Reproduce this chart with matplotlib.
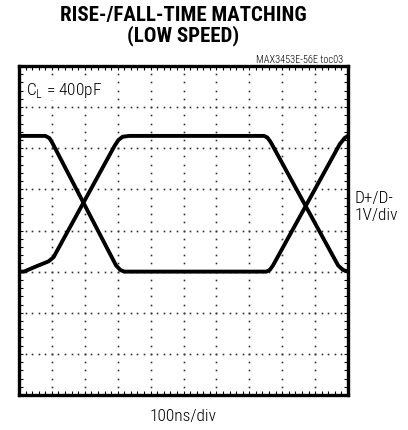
import matplotlib
matplotlib.use("Agg")
import matplotlib.pyplot as plt
import numpy as np

# Data section (scope divisions: x 0..10, y 0..8)
# trace that starts high, falls, then rises again near the right edge
t_a = [0.0, 0.80, 0.92, 1.00, 2.95, 3.08, 3.20, 3.40, 7.52, 7.62, 7.72, 9.75, 9.90, 10.0]
v_a = [6.30, 6.30, 6.25, 6.15, 3.15, 3.04, 3.00, 3.00, 3.00, 3.04, 3.15, 6.10, 6.25, 6.30]

# trace that starts low, rises, then falls near the right edge
t_b = [0.0, 0.15, 0.50, 0.90, 1.05, 2.90, 3.02, 3.15, 3.35, 7.45, 7.55, 7.65, 9.70, 9.85, 10.0]
v_b = [3.00, 3.00, 3.12, 3.25, 3.35, 6.05, 6.20, 6.28, 6.30, 6.30, 6.26, 6.15, 3.15, 3.04, 3.00]

title = "RISE-/FALL-TIME MATCHING\n(LOW SPEED)"
narrow = ["Roboto Condensed", "DejaVu Sans"]

fig = plt.figure(figsize=(4.08, 4.31), dpi=100)
ax = fig.add_axes([19 / 408, 35 / 431, 329 / 408, 329 / 431])
ax.set_xlim(0, 10)
ax.set_ylim(0, 8)

# dotted graticule, dots every 1/5 division
sub_x = np.arange(0, 10.01, 0.2)
sub_y = np.arange(0, 8.01, 0.2)
for gx in range(1, 10):
    ax.plot(np.full_like(sub_y, gx), sub_y, ls="none", marker="s", ms=1.2,
            mew=0, color="#333333", zorder=1)
for gy in range(1, 8):
    ax.plot(sub_x, np.full_like(sub_x, gy), ls="none", marker="s", ms=1.2,
            mew=0, color="#333333", zorder=1)

ax.plot(t_a, v_a, color="black", lw=2.8, solid_joinstyle="round", zorder=3)
ax.plot(t_b, v_b, color="black", lw=2.8, solid_joinstyle="round", zorder=3)

ax.set_xticks(range(0, 11))
ax.set_yticks(range(0, 9))
ax.set_xticks(sub_x, minor=True)
ax.set_yticks(sub_y, minor=True)
ax.tick_params(which="both", direction="in", length=3, width=0.8,
               top=True, right=True, labelbottom=False, labelleft=False)
for s in ax.spines.values():
    s.set_linewidth(2.4)

ax.text(0.2, 7.43, "C$_\\mathregular{L}$ = 400pF", family=narrow, weight=300,
        size=12.5, va="center", ha="left", zorder=4,
        bbox=dict(facecolor="white", edgecolor="none", pad=1))

fig.text(183 / 408, 1 - 26 / 431, title, ha="center", va="center",
         family=narrow, weight="bold", size=15, linespacing=1.0)
fig.text(343 / 408, 1 - 60 / 431, "MAX3453E-56E toc03", ha="right",
         va="center", family=narrow, weight=300, size=7.5)
fig.text(355 / 408, 1 - 207 / 431, "D+/D-\n1V/div", ha="left", va="center",
         family=narrow, weight=300, size=12.5, linespacing=1.2)
fig.text(183 / 408, 1 - 417 / 431, "100ns/div", ha="center", va="center",
         family=narrow, weight=300, size=12.5)

fig.savefig("out.png", dpi=100)
